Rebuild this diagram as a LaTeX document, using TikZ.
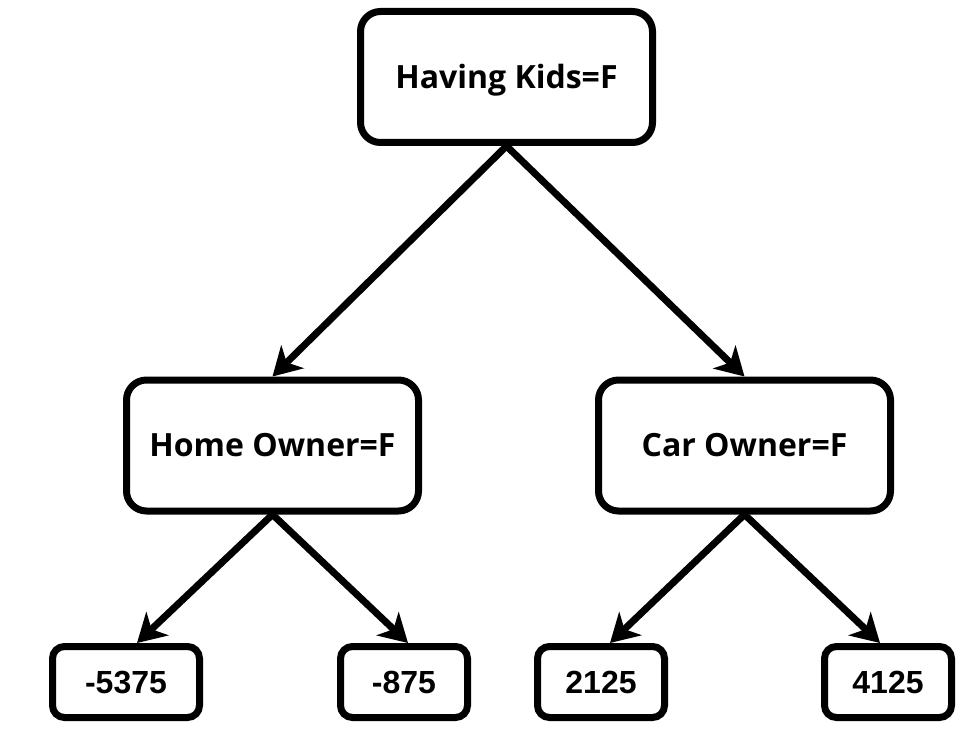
\documentclass[tikz,border=0pt]{standalone}
\usepackage{fontspec}
\setmainfont{Open Sans}
\newfontfamily\numfont{Liberation Sans}
\usetikzlibrary{arrows.meta}

\begin{document}
\begin{tikzpicture}[x=0.75pt,y=-0.75pt]
    \tikzstyle{split}=[draw,line width=5.25pt,rounded corners=15pt,minimum width=219pt,minimum height=98.25pt,text height=17pt,text depth=0pt,font=\fontsize{24}{24}\selectfont\bfseries]
    \tikzstyle{leaf}=[draw,line width=5.25pt,rounded corners=9pt,minimum width=95.25pt,minimum height=53.25pt,text height=17pt,text depth=0pt,font=\fontsize{24}{24}\selectfont\numfont\bfseries]
    \tikzstyle{branch}=[line width=5.25pt,-{Stealth[length=21pt,width=24pt,inset=6pt]}]
    \useasboundingbox (0,0) rectangle (980,734);
    \node[split] (kids) at (506.5,77) {Having Kids=F};
    \node[split] (home) at (272.5,445.5) {Home Owner=F};
    \node[split] (car) at (744.5,445.5) {Car Owner=F};
    \node[leaf,minimum width=110.25pt] (la) at (126,682) {-5375};
    \node[leaf] (lb) at (404,682) {-875};
    \node[leaf] (lc) at (601,682) {2125};
    \node[leaf] (ld) at (888,682) {4125};
    \draw[branch] (kids.south) -- (home.north);
    \draw[branch] (kids.south) -- (car.north);
    \draw[branch] (home.south) -- ([xshift=8.25pt]la.north);
    \draw[branch] (home.south) -- ([xshift=3pt]lb.north);
    \draw[branch] (car.south) -- ([xshift=6.75pt]lc.north);
    \draw[branch] (car.south) -- ([xshift=-6pt]ld.north);
\end{tikzpicture}
\end{document}
